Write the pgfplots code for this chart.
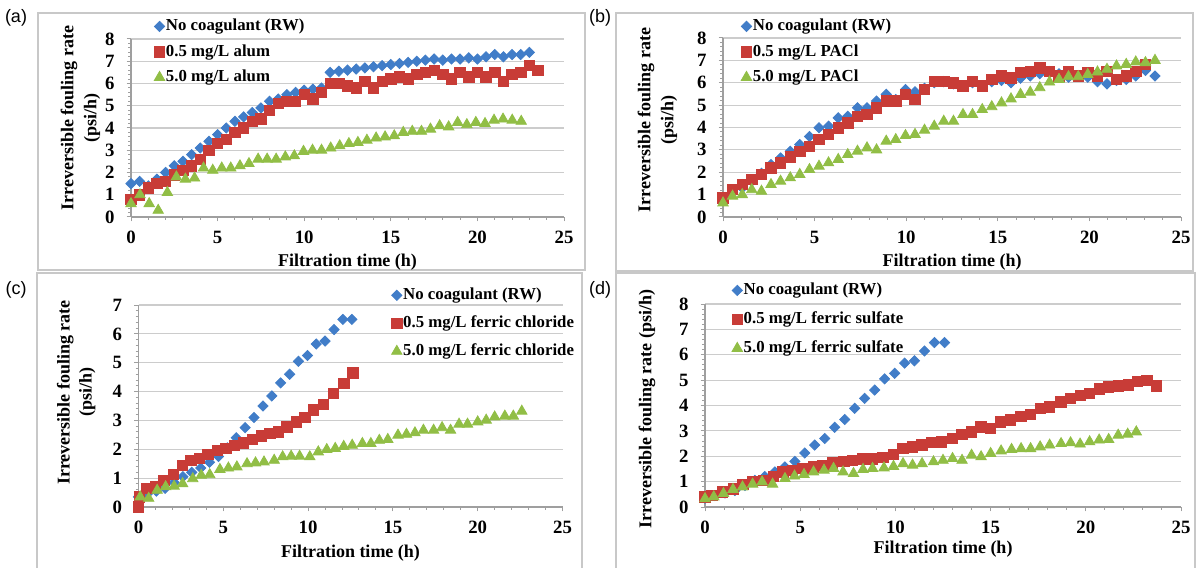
\documentclass[border=0pt]{standalone}
\usepackage{fontspec}
\setmainfont{Liberation Serif}
\newfontfamily\sansf{Liberation Sans}
\usepackage{pgfplots}
\pgfplotsset{compat=1.18}
\definecolor{cblue}{RGB}{65,125,200}
\definecolor{cred}{RGB}{200,60,55}
\definecolor{cgreen}{RGB}{145,190,70}
\definecolor{frame}{RGB}{200,200,200}
\newcommand{\lf}{\bfseries\fontsize{8.4}{11.5}\selectfont}
\newcommand{\tf}{\bfseries\fontsize{9.4}{11.5}\selectfont}
\newcommand{\af}{\bfseries\fontsize{9}{11.5}\selectfont}
\pgfplotsset{
  panel/.style={
    scale only axis,
    xmin=0, xmax=25, ymin=0,
    axis lines=left,
    axis line style={draw=gray!75, line width=0.6pt, -},
    xtick={0,5,...,25}, minor x tick num=4,
    ytick distance=1, minor y tick num=4,
    tick align=outside,
    major tick length=2.2pt, minor tick length=1.4pt,
    tick style={draw=gray!75, line width=0.5pt},
    ymajorgrids, grid style={draw=gray!40, line width=0.6pt},
    tick label style={font=\tf},
    /pgf/number format/assume math mode=true,
    xticklabel style={yshift=-1.5pt},
    yticklabel style={xshift=-2.5pt},
    label style={font=\af},
    legend style={draw=none, fill=none, font=\lf, anchor=north west,
      inner sep=0pt, legend cell align=left,
      nodes={inner xsep=0.6pt, inner ysep=0pt, text height=6pt, text depth=1.5pt}},
    legend image code/.code={\draw[mark repeat=2,mark phase=2,#1] plot coordinates {(0pt,0pt) (2.6pt,0pt) (5.2pt,0pt)};},
    clip=false,
  },
  sb/.style={only marks, mark=square*, mark size=1.8pt, mark options={rotate=45, draw=cblue, fill=cblue}},
  sr/.style={only marks, mark=square*, mark size=2.6pt, mark options={draw=cred, fill=cred}},
  sg/.style={only marks, mark=triangle*, mark size=3pt, mark options={draw=cgreen, fill=cgreen}},
}
\begin{document}
\begin{tikzpicture}
\path[use as bounding box] (0pt,0pt) rectangle (598.5pt,283.5pt);
% panel frames
\draw[frame, line width=0.8pt] (19pt,277pt) rectangle (292.5pt,148.5pt);
\draw[frame, line width=0.8pt] (308pt,277pt) rectangle (596.5pt,148pt);
\draw[frame, line width=0.8pt] (18.5pt,-5pt) -- (18.5pt,147pt) -- (291pt,147pt) -- (291pt,-5pt);
\draw[frame, line width=0.8pt] (308pt,-5pt) -- (308pt,147pt) -- (597.5pt,147pt) -- (597.5pt,-5pt);
\node[font=\sansf\fontsize{9}{10}\selectfont] at (8pt,274.5pt) {(a)};
\node[font=\sansf\fontsize{9}{10}\selectfont] at (300pt,274.5pt) {(b)};
\node[font=\sansf\fontsize{9}{10}\selectfont] at (8pt,138.5pt) {(c)};
\node[font=\sansf\fontsize{9}{10}\selectfont] at (300pt,138.5pt) {(d)};

% ---------------- (a)
\begin{axis}[panel, at={(65.5pt,175pt)}, anchor=south west,
  width=216.5pt, height=89pt, ymax=8,
  xlabel={Filtration time (h)},
  ylabel={Irreversible fouling rate\\(psi/h)},
  xlabel style={at={(axis description cs:0.5,-0.253)}, anchor=center},
  ylabel style={at={(axis description cs:-0.1166,0.556)}, anchor=center, align=center},
  legend style={at={(axis description cs:0.053,1.115)}, row sep=5.25pt}]
\addplot[sb] coordinates {(0,1.5)(0.5,1.6)(1,1.4)(1.5,1.7)(2,2.0)(2.5,2.3)(3,2.5)(3.5,2.8)(4,3.1)(4.5,3.4)(5,3.7)(5.5,4.0)(6,4.3)(6.5,4.5)(7,4.7)(7.5,4.9)(8,5.2)(8.5,5.3)(9,5.5)(9.5,5.6)(10,5.7)(10.5,5.75)(11,5.8)(11.5,6.5)(12,6.55)(12.5,6.6)(13,6.65)(13.5,6.7)(14,6.75)(14.5,6.8)(15,6.85)(15.5,6.9)(16,6.95)(16.5,7.0)(17,7.05)(17.5,7.1)(18,7.05)(18.5,7.1)(19,7.1)(19.5,7.15)(20,7.1)(20.5,7.2)(21,7.3)(21.5,7.2)(22,7.3)(22.5,7.3)(23,7.4)};
\addlegendentry{No coagulant (RW)}
\addplot[sr] coordinates {(0,0.8)(0.5,1.0)(1,1.3)(1.5,1.5)(2,1.6)(2.5,1.9)(3,2.1)(3.5,2.3)(4,2.6)(4.5,3.0)(5,3.3)(5.5,3.5)(6,3.8)(6.5,4.0)(7,4.3)(7.5,4.4)(8,4.8)(8.5,5.1)(9,5.2)(9.5,5.2)(10,5.5)(10.5,5.3)(11,5.6)(11.5,6.0)(12,6.0)(12.5,5.9)(13,5.8)(13.5,6.1)(14,5.8)(14.5,6.1)(15,6.2)(15.5,6.3)(16,6.2)(16.5,6.4)(17,6.5)(17.5,6.6)(18,6.4)(18.5,6.2)(19,6.5)(19.5,6.3)(20,6.5)(20.5,6.3)(21,6.5)(21.5,6.1)(22,6.4)(22.5,6.5)(23,6.8)(23.5,6.6)};
\addlegendentry{0.5 mg/L alum}
\addplot[sg] coordinates {(0,0.6)(0.52,1.0)(1.05,0.6)(1.57,0.3)(2.10,1.1)(2.62,1.8)(3.14,1.7)(3.67,1.75)(4.19,2.2)(4.72,2.1)(5.24,2.2)(5.76,2.2)(6.29,2.3)(6.81,2.4)(7.34,2.6)(7.86,2.6)(8.38,2.6)(8.91,2.7)(9.43,2.75)(9.96,2.95)(10.48,3.0)(11.00,3.0)(11.53,3.1)(12.05,3.2)(12.58,3.3)(13.10,3.35)(13.62,3.45)(14.15,3.55)(14.67,3.6)(15.20,3.65)(15.72,3.8)(16.24,3.85)(16.77,3.85)(17.29,3.95)(17.82,4.1)(18.34,4.05)(18.86,4.25)(19.39,4.15)(19.91,4.25)(20.44,4.2)(20.96,4.35)(21.48,4.4)(22.01,4.35)(22.53,4.3)};
\addlegendentry{5.0 mg/L alum}
\end{axis}

% ---------------- (b)
\begin{axis}[panel, at={(361.5pt,175pt)}, anchor=south west,
  width=229pt, height=89.5pt, ymax=8,
  xlabel={Filtration time (h)},
  ylabel={Irreversible fouling rate\\(psi/h)},
  xlabel style={at={(axis description cs:0.5,-0.251)}, anchor=center},
  ylabel style={at={(axis description cs:-0.143,0.542)}, anchor=center, align=center},
  legend style={at={(axis description cs:0.039,1.109)}, row sep=5.25pt}]
\addplot[sb] coordinates {(0,0.8)(0.52,1.1)(1.05,1.3)(1.57,1.6)(2.10,1.95)(2.62,2.34)(3.14,2.64)(3.67,2.94)(4.19,3.24)(4.72,3.6)(5.24,3.99)(5.76,4.06)(6.29,4.43)(6.81,4.5)(7.34,4.88)(7.86,4.88)(8.38,5.18)(8.91,5.48)(9.43,5.25)(9.96,5.7)(10.48,5.6)(11.00,5.75)(11.53,6.0)(12.05,6.05)(12.58,5.95)(13.10,5.85)(13.62,6.0)(14.15,5.85)(14.67,6.05)(15.20,6.1)(15.72,6.0)(16.24,6.2)(16.77,6.3)(17.29,6.4)(17.82,6.5)(18.34,6.4)(18.86,6.25)(19.39,6.3)(19.91,6.25)(20.44,6.05)(20.96,5.95)(21.48,6.1)(22.01,6.15)(22.53,6.3)(23.06,6.55)(23.58,6.3)};
\addlegendentry{No coagulant (RW)}
\addplot[sr] coordinates {(0,0.85)(0.52,1.22)(1.05,1.45)(1.57,1.67)(2.10,1.9)(2.62,2.2)(3.14,2.42)(3.67,2.69)(4.19,2.94)(4.72,3.16)(5.24,3.46)(5.76,3.69)(6.29,3.99)(6.81,4.21)(7.34,4.5)(7.86,4.58)(8.38,4.88)(8.91,5.18)(9.43,5.18)(9.96,5.48)(10.48,5.25)(11.00,5.7)(11.53,6.07)(12.05,6.07)(12.58,6.0)(13.10,5.85)(13.62,6.07)(14.15,5.85)(14.67,6.15)(15.20,6.3)(15.72,6.22)(16.24,6.45)(16.77,6.52)(17.29,6.67)(17.82,6.52)(18.34,6.3)(18.86,6.52)(19.39,6.3)(19.91,6.45)(20.44,6.3)(20.96,6.52)(21.48,6.15)(22.01,6.3)(22.53,6.52)(23.06,6.82)};
\addlegendentry{0.5 mg/L PACl}
\addplot[sg] coordinates {(0,0.63)(0.52,0.93)(1.05,1.0)(1.57,1.22)(2.10,1.15)(2.62,1.45)(3.14,1.6)(3.67,1.75)(4.19,1.9)(4.72,2.12)(5.24,2.27)(5.76,2.42)(6.29,2.57)(6.81,2.79)(7.34,2.94)(7.86,3.09)(8.38,3.0)(8.91,3.39)(9.43,3.46)(9.96,3.64)(10.48,3.69)(11.00,3.88)(11.53,4.06)(12.05,4.28)(12.58,4.28)(13.10,4.58)(13.62,4.58)(14.15,4.8)(14.67,4.93)(15.20,5.1)(15.72,5.28)(16.24,5.48)(16.77,5.58)(17.29,5.78)(17.82,6.03)(18.34,6.15)(18.86,6.27)(19.39,6.27)(19.91,6.37)(20.44,6.48)(20.96,6.6)(21.48,6.75)(22.01,6.82)(22.53,6.93)(23.06,6.9)(23.58,7.0)};
\addlegendentry{5.0 mg/L PACl}
\end{axis}

% ---------------- (c)
\begin{axis}[panel, at={(69.25pt,30pt)}, anchor=south west,
  width=212pt, height=101pt, ymax=7,
  xlabel={Filtration time (h)},
  ylabel={Irreversible fouling rate\\(psi/h)},
  ylabel style={font=\bfseries\fontsize{9}{11}\selectfont},
  xlabel style={at={(axis description cs:0.5,-0.228)}, anchor=center},
  ylabel style={at={(axis description cs:-0.147,0.567)}, anchor=center, align=center},
  legend style={at={(axis description cs:0.596,1.087)}, row sep=6.5pt}]
\addplot[sb] coordinates {(0,0.35)(0.52,0.45)(1.05,0.55)(1.57,0.65)(2.10,0.85)(2.62,1.05)(3.14,1.2)(3.67,1.35)(4.19,1.55)(4.72,1.75)(5.24,2.05)(5.76,2.4)(6.29,2.75)(6.81,3.1)(7.34,3.5)(7.86,3.85)(8.38,4.3)(8.91,4.6)(9.43,5.05)(9.96,5.25)(10.48,5.65)(11.00,5.75)(11.53,6.15)(12.05,6.5)(12.58,6.5)};
\addlegendentry{No coagulant (RW)}
\addplot[sr] coordinates {(0,0)(0.05,0.35)(0.5,0.64)(1.0,0.7)(1.5,0.93)(2.05,1.13)(2.6,1.45)(3.1,1.62)(3.6,1.68)(4.1,1.83)(4.65,1.97)(5.15,2.03)(5.67,2.14)(6.2,2.22)(6.7,2.34)(7.25,2.47)(7.75,2.55)(8.25,2.6)(8.75,2.78)(9.3,2.95)(9.8,3.1)(10.3,3.36)(10.9,3.55)(11.5,3.94)(12.1,4.28)(12.65,4.65)};
\addlegendentry{0.5 mg/L ferric chloride}
\addplot[sg] coordinates {(0.1,0.35)(0.6,0.3)(1.1,0.58)(1.6,0.7)(2.1,0.72)(2.6,0.81)(3.2,0.98)(3.7,1.1)(4.2,1.12)(4.8,1.3)(5.3,1.35)(5.8,1.39)(6.4,1.5)(6.9,1.53)(7.4,1.56)(8.0,1.62)(8.5,1.74)(9.0,1.76)(9.5,1.76)(10.1,1.74)(10.6,1.91)(11.1,1.99)(11.6,2.03)(12.1,2.1)(12.6,2.14)(13.2,2.2)(13.7,2.2)(14.2,2.31)(14.7,2.34)(15.3,2.49)(15.8,2.52)(16.3,2.57)(16.8,2.66)(17.4,2.66)(17.9,2.75)(18.4,2.66)(18.9,2.87)(19.4,2.87)(20.0,2.95)(20.5,3.01)(21.0,3.12)(21.6,3.15)(22.1,3.15)(22.6,3.32)};
\addlegendentry{5.0 mg/L ferric chloride}
\end{axis}

% ---------------- (d)
\begin{axis}[panel, at={(352.5pt,30pt)}, anchor=south west,
  width=238pt, height=101.5pt, ymax=8,
  xlabel={Filtration time (h)},
  ylabel={Irreversible fouling rate (psi/h)},
  xlabel style={at={(axis description cs:0.5,-0.207)}, anchor=center},
  ylabel style={at={(axis description cs:-0.122,0.483)}, anchor=center},
  legend style={at={(axis description cs:0.056,1.106)}, row sep=7pt}]
\addplot[sb] coordinates {(0,0.35)(0.52,0.45)(1.05,0.55)(1.57,0.65)(2.10,0.85)(2.62,1.05)(3.14,1.2)(3.67,1.38)(4.19,1.58)(4.72,1.8)(5.24,2.13)(5.76,2.44)(6.29,2.7)(6.81,3.14)(7.34,3.45)(7.86,3.89)(8.38,4.28)(8.91,4.61)(9.43,5.05)(9.96,5.27)(10.48,5.67)(11.00,5.76)(11.53,6.15)(12.05,6.48)(12.58,6.48)};
\addlegendentry{No coagulant (RW)}
\addplot[sr] coordinates {(0,0.4)(0.36,0.46)(0.9,0.6)(1.5,0.72)(2.0,0.9)(2.5,1.0)(3.1,1.05)(3.6,1.2)(4.1,1.38)(4.6,1.45)(5.15,1.52)(5.7,1.58)(6.2,1.65)(6.7,1.74)(7.3,1.8)(7.75,1.84)(8.3,1.9)(8.8,1.9)(9.35,1.95)(9.9,2.08)(10.4,2.3)(10.9,2.37)(11.4,2.44)(11.9,2.54)(12.4,2.57)(13.0,2.7)(13.5,2.87)(14.0,2.96)(14.5,3.16)(15.0,3.1)(15.5,3.36)(16.05,3.43)(16.6,3.56)(17.1,3.66)(17.6,3.89)(18.1,3.95)(18.7,4.15)(19.2,4.28)(19.7,4.41)(20.2,4.48)(20.7,4.65)(21.2,4.74)(21.7,4.77)(22.25,4.81)(22.7,4.94)(23.2,5.0)(23.7,4.77)};
\addlegendentry{0.5 mg/L ferric sulfate}
\addplot[sg] coordinates {(0,0.33)(0.46,0.4)(0.97,0.53)(1.47,0.69)(1.97,0.79)(2.5,0.9)(3.0,0.99)(3.55,0.9)(4.2,1.12)(4.7,1.22)(5.2,1.28)(5.7,1.38)(6.25,1.45)(6.75,1.52)(7.25,1.38)(7.8,1.32)(8.3,1.48)(8.8,1.52)(9.4,1.54)(9.9,1.6)(10.4,1.71)(10.9,1.65)(11.4,1.71)(12.0,1.78)(12.5,1.84)(13.0,1.91)(13.5,1.84)(14.0,2.04)(14.5,1.98)(15.0,2.11)(15.55,2.21)(16.1,2.27)(16.6,2.3)(17.1,2.3)(17.6,2.37)(18.1,2.44)(18.7,2.5)(19.2,2.53)(19.7,2.48)(20.2,2.57)(20.7,2.64)(21.2,2.66)(21.7,2.83)(22.2,2.87)(22.65,2.96)};
\addlegendentry{5.0 mg/L ferric sulfate}
\end{axis}
\end{tikzpicture}
\end{document}
